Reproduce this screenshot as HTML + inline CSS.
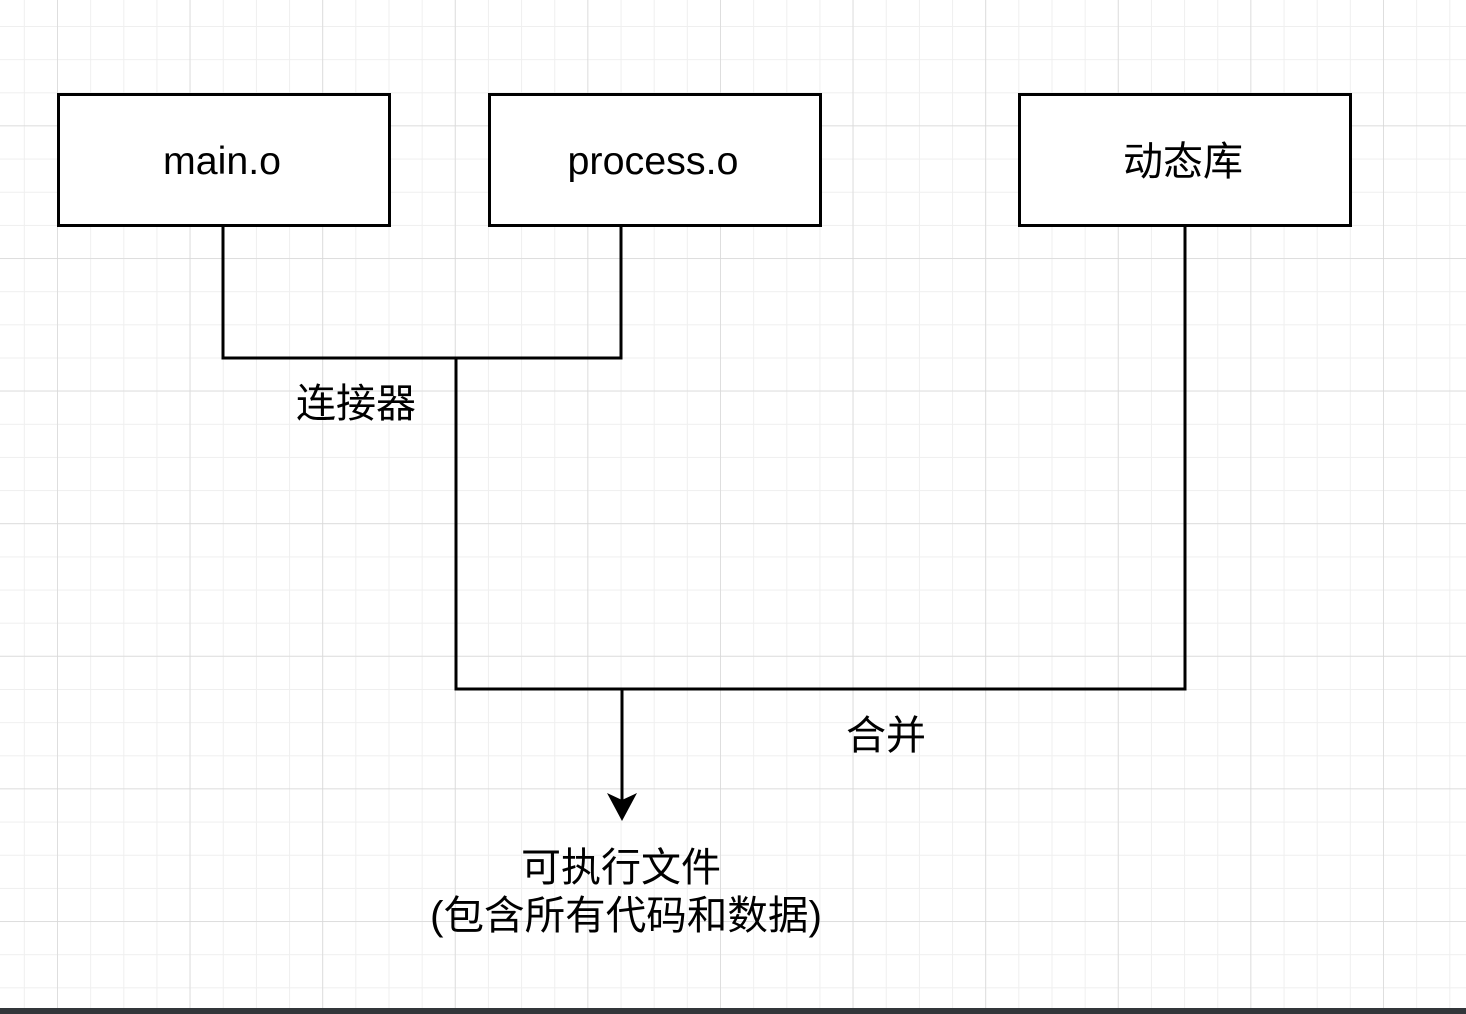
<!DOCTYPE html>
<html><head><meta charset="utf-8"><style>
html,body{margin:0;padding:0;width:1466px;height:1014px;overflow:hidden;background:#fff}
svg text{font-family:"Liberation Sans","Noto Sans CJK SC",sans-serif;fill:#000}
</style></head><body>
<svg width="1466" height="1014" viewBox="0 0 1466 1014" xmlns="http://www.w3.org/2000/svg">
<defs>
<pattern id="minor" patternUnits="userSpaceOnUse" x="23.85" y="26" width="33.15" height="33.15">
<path d="M0 0H33.15M0 0V33.15" stroke="#efefef" stroke-width="2" fill="none"/>
</pattern>
<pattern id="major" patternUnits="userSpaceOnUse" x="57" y="125.4" width="132.6" height="132.6">
<path d="M0 0H132.6M0 0V132.6" stroke="#d8d8d8" stroke-width="1.5" fill="none"/>
</pattern>
</defs>
<rect width="1466" height="1014" fill="#fff"/>
<rect width="1466" height="1014" fill="url(#minor)"/>
<rect width="1466" height="1014" fill="url(#major)"/>
<rect x="0" y="1008" width="1466" height="6" fill="#32363a"/>
<g fill="#fff" stroke="#000" stroke-width="3">
<rect x="58.5" y="94.5" width="331" height="131"/>
<rect x="489.5" y="94.5" width="331" height="131"/>
<rect x="1019.5" y="94.5" width="331" height="131"/>
</g>
<g fill="none" stroke="#000" stroke-width="3">
<path d="M223 226V358H621V226"/>
<path d="M456 358V689H1185V226"/>
<path d="M622 689V800"/>
</g>
<path d="M607 793L622 821L637 793L622 800Z" fill="#000"/>
<g text-anchor="middle">
<text x="222" y="174" font-size="39" textLength="118" lengthAdjust="spacingAndGlyphs">main.o</text>
<text x="653" y="174" font-size="39" textLength="171" lengthAdjust="spacingAndGlyphs">process.o</text>
<text x="1183" y="175" font-size="40">动态库</text>
<text x="356" y="417" font-size="40">连接器</text>
<text x="886" y="749" font-size="40">合并</text>
<text x="621" y="881" font-size="40">可执行文件</text>
<text x="626" y="929" font-size="40" textLength="392" lengthAdjust="spacingAndGlyphs">(包含所有代码和数据)</text>
</g>
</svg>
</body></html>
